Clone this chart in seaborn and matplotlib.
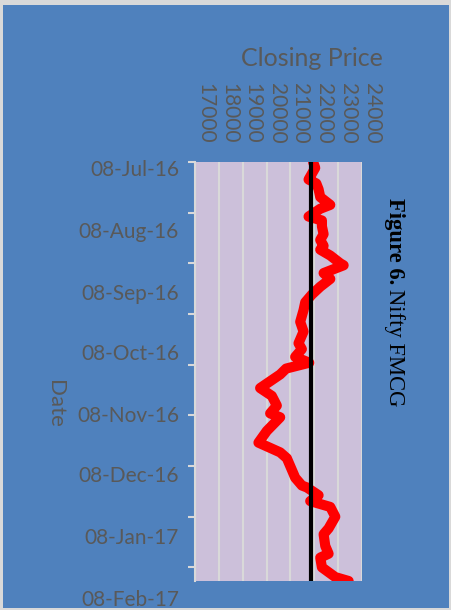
import matplotlib
matplotlib.use('Agg')
import matplotlib.pyplot as plt
import matplotlib.dates as mdates
from matplotlib.patches import Rectangle
import seaborn as sns
import pandas as pd

# ---- data ----
dates = ['2016-07-08', '2016-07-11', '2016-07-14', '2016-07-17', '2016-07-19', '2016-07-22',
         '2016-07-26', '2016-07-30', '2016-08-01', '2016-08-05', '2016-08-07', '2016-08-10',
         '2016-08-14', '2016-08-17', '2016-08-20', '2016-08-22', '2016-08-25', '2016-08-29',
         '2016-08-30', '2016-09-03', '2016-09-06', '2016-09-10', '2016-09-14', '2016-09-18',
         '2016-09-22', '2016-09-28', '2016-10-03', '2016-10-09', '2016-10-12', '2016-10-16',
         '2016-10-19', '2016-10-22', '2016-10-25', '2016-11-01', '2016-11-05', '2016-11-10',
         '2016-11-14', '2016-11-16', '2016-11-23', '2016-11-29', '2016-12-04', '2016-12-07',
         '2016-12-13', '2016-12-17', '2016-12-21', '2016-12-22', '2016-12-26', '2016-12-29',
         '2017-01-01', '2017-01-06', '2017-01-12', '2017-01-15', '2017-01-21', '2017-01-25',
         '2017-01-27', '2017-02-01', '2017-02-06', '2017-02-08']
prices = [21950, 22040, 21900, 21760, 22085, 22180,
          22250, 22670, 22250, 21760, 22320, 22320,
          22390, 22250, 22390, 22250, 22670, 23090,
          23230, 22390, 22670, 22250, 21900, 21620,
          21550, 21410, 21550, 21340, 21480, 21200,
          21790, 20820, 20570, 19730, 20220, 20430,
          20150, 20570, 20010, 19660, 20570, 20850,
          21060, 21200, 21480, 21690, 22180, 21830,
          22670, 22880, 22600, 22390, 22460, 22600,
          22250, 22320, 22880, 23440]
avg_price = 21870
x_ticks = [17000, 18000, 19000, 20000, 21000, 22000, 23000, 24000]
label_dates = ['2016-07-08', '2016-08-08', '2016-09-08', '2016-10-08',
               '2016-11-08', '2016-12-08', '2017-01-08', '2017-02-08']
label_texts = ['08-Jul-16', '08-Aug-16', '08-Sep-16', '08-Oct-16',
               '08-Nov-16', '08-Dec-16', '08-Jan-17', '08-Feb-17']
caption_bold = 'Figure 6.'
caption_rest = 'Nifty FMCG'

sns.set_style('white')
plt.rcParams['font.family'] = ['Lato', 'DejaVu Sans']

GRAY = '#595959'
W, H = 452, 610
fig = plt.figure(figsize=(W / 100, H / 100), dpi=100, facecolor='#D9D9D9')
fig.add_artist(Rectangle((3.5 / W, 2 / H), 445.5 / W, 603 / H, transform=fig.transFigure,
                         facecolor='#4F81BD', edgecolor='none', zorder=-10))

left, right, top, bottom = 195, 362, 162, 581
ax = fig.add_axes([left / W, 1 - bottom / H, (right - left) / W, (bottom - top) / H])
ax.set_facecolor('#CCC0DA')

df = pd.DataFrame({'date': pd.to_datetime(dates), 'price': prices})
df['dnum'] = mdates.date2num(df['date'])
sns.lineplot(data=df, x='price', y='dnum', estimator=None, sort=False, color='#FF0000',
             linewidth=7.3, solid_capstyle='round', solid_joinstyle='round', ax=ax, zorder=3)
ax.axvline(avg_price, color='black', linewidth=3, zorder=4)

start = pd.Timestamp('2016-07-08')
end = pd.Timestamp('2017-02-08')
ax.set_ylim(mdates.date2num(end), mdates.date2num(start))
ax.set_xlim(17000, 24000)
ax.xaxis.tick_top()
ax.set_xticks(x_ticks)
ax.set_xticklabels([str(v) for v in x_ticks], rotation=-90, ha='left', va='bottom',
                   color=GRAY, fontsize=15)
ax.tick_params(axis='x', length=0, pad=13.5)
ax.grid(axis='x', color='#D9D9D9', linewidth=1.5)
ax.grid(axis='y', visible=False)
ax.set_axisbelow(True)
tick_dates = pd.date_range(start, periods=9, freq='26D')
ax.set_yticks(mdates.date2num(tick_dates))
ax.set_yticklabels([])
ax.tick_params(axis='y', length=5, width=1.5, color='#D9D9D9', direction='out', left=True)
for s in ['top', 'right', 'bottom']:
    ax.spines[s].set_visible(False)
ax.spines['left'].set_color('#D9D9D9')
ax.spines['left'].set_linewidth(1.5)
ax.set_xlabel('')
ax.set_ylabel('')

# date labels axis (Excel places them on its own spacing)
ax2 = fig.add_axes([left / W, 0, (right - left) / W, (H - top) / H], facecolor='none')
ax2.set_ylim(mdates.date2num(start + pd.Timedelta(days=221)),
             mdates.date2num(start - pd.Timedelta(days=3)))
ax2.set_yticks(mdates.date2num(pd.to_datetime(label_dates)))
ax2.set_yticklabels(label_texts, fontsize=15, color=GRAY)
ax2.tick_params(axis='y', length=0, pad=11.5, left=True)
ax2.set_xticks([])
for s in ax2.spines.values():
    s.set_visible(False)
ax2.set_zorder(-1)

fig.text(312 / W, 1 - 58 / H, 'Closing Price', ha='center', va='center', fontsize=18, color=GRAY)
fig.text(55 / W, 1 - 404 / H, 'Date', rotation=-90, ha='center', va='center', fontsize=16, color=GRAY)

# caption: bold part then regular part, running top to bottom
renderer = fig.canvas.get_renderer()
t1 = fig.text(395 / W, 1 - 198 / H, caption_bold, rotation=-90, ha='center', va='top',
              fontsize=16.3, family='Liberation Serif', fontweight='bold', color='black')
bb = t1.get_window_extent(renderer=renderer)
gap = 5
t2 = fig.text(395 / W, (bb.y0 - gap) / H, caption_rest, rotation=-90, ha='center', va='top',
              fontsize=16.3, family='Liberation Serif', color='black')

fig.savefig('out.png', dpi=100, facecolor=fig.get_facecolor())
